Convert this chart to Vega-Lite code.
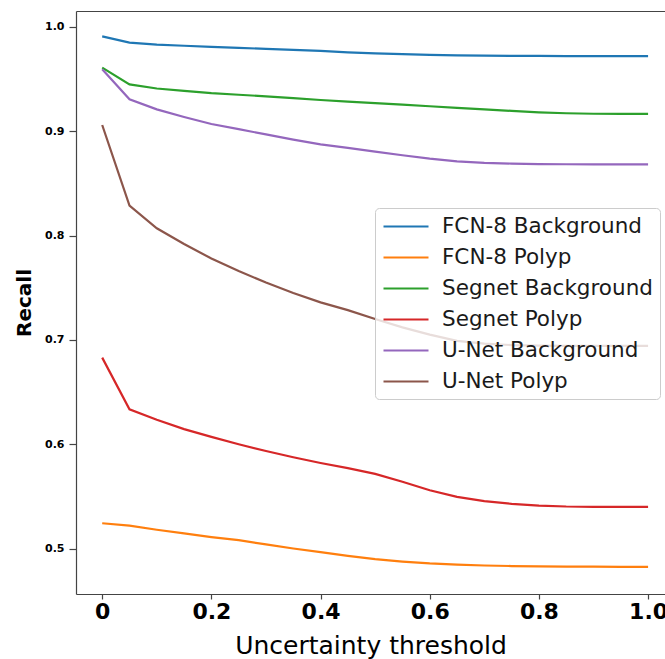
{
  "$schema": "https://vega.github.io/schema/vega-lite/v6.json",
  "width": 589,
  "height": 583,
  "autosize": {"type": "none"},
  "padding": {"left": 76, "top": 11, "right": 0, "bottom": 65},
  "background": "white",
  "config": {"view": {"stroke": null}, "font": "DejaVu Sans"},
  "data": {"values": [
    {"m":"FCN-8 Background","t":0,"r":0.991},{"m":"FCN-8 Background","t":0.05,"r":0.985},{"m":"FCN-8 Background","t":0.1,"r":0.983},{"m":"FCN-8 Background","t":0.15,"r":0.982},{"m":"FCN-8 Background","t":0.2,"r":0.981},{"m":"FCN-8 Background","t":0.25,"r":0.980},{"m":"FCN-8 Background","t":0.3,"r":0.979},{"m":"FCN-8 Background","t":0.35,"r":0.978},{"m":"FCN-8 Background","t":0.4,"r":0.977},{"m":"FCN-8 Background","t":0.45,"r":0.9757},{"m":"FCN-8 Background","t":0.5,"r":0.9747},{"m":"FCN-8 Background","t":0.55,"r":0.9739},{"m":"FCN-8 Background","t":0.6,"r":0.9732},{"m":"FCN-8 Background","t":0.65,"r":0.9728},{"m":"FCN-8 Background","t":0.7,"r":0.9725},{"m":"FCN-8 Background","t":0.75,"r":0.9723},{"m":"FCN-8 Background","t":0.8,"r":0.9722},{"m":"FCN-8 Background","t":0.85,"r":0.9721},{"m":"FCN-8 Background","t":0.9,"r":0.972},{"m":"FCN-8 Background","t":0.95,"r":0.972},{"m":"FCN-8 Background","t":1.0,"r":0.972},
    {"m":"FCN-8 Polyp","t":0,"r":0.5242},{"m":"FCN-8 Polyp","t":0.05,"r":0.5219},{"m":"FCN-8 Polyp","t":0.1,"r":0.518},{"m":"FCN-8 Polyp","t":0.15,"r":0.5145},{"m":"FCN-8 Polyp","t":0.2,"r":0.511},{"m":"FCN-8 Polyp","t":0.25,"r":0.508},{"m":"FCN-8 Polyp","t":0.3,"r":0.504},{"m":"FCN-8 Polyp","t":0.35,"r":0.5},{"m":"FCN-8 Polyp","t":0.4,"r":0.4965},{"m":"FCN-8 Polyp","t":0.45,"r":0.493},{"m":"FCN-8 Polyp","t":0.5,"r":0.4898},{"m":"FCN-8 Polyp","t":0.55,"r":0.4875},{"m":"FCN-8 Polyp","t":0.6,"r":0.4857},{"m":"FCN-8 Polyp","t":0.65,"r":0.4845},{"m":"FCN-8 Polyp","t":0.7,"r":0.4837},{"m":"FCN-8 Polyp","t":0.75,"r":0.4832},{"m":"FCN-8 Polyp","t":0.8,"r":0.4829},{"m":"FCN-8 Polyp","t":0.85,"r":0.4827},{"m":"FCN-8 Polyp","t":0.9,"r":0.4826},{"m":"FCN-8 Polyp","t":0.95,"r":0.4825},{"m":"FCN-8 Polyp","t":1.0,"r":0.4825},
    {"m":"Segnet Background","t":0,"r":0.961},{"m":"Segnet Background","t":0.05,"r":0.945},{"m":"Segnet Background","t":0.1,"r":0.941},{"m":"Segnet Background","t":0.15,"r":0.9387},{"m":"Segnet Background","t":0.2,"r":0.9365},{"m":"Segnet Background","t":0.25,"r":0.935},{"m":"Segnet Background","t":0.3,"r":0.9335},{"m":"Segnet Background","t":0.35,"r":0.9318},{"m":"Segnet Background","t":0.4,"r":0.930},{"m":"Segnet Background","t":0.45,"r":0.9285},{"m":"Segnet Background","t":0.5,"r":0.927},{"m":"Segnet Background","t":0.55,"r":0.9255},{"m":"Segnet Background","t":0.6,"r":0.924},{"m":"Segnet Background","t":0.65,"r":0.9225},{"m":"Segnet Background","t":0.7,"r":0.921},{"m":"Segnet Background","t":0.75,"r":0.9195},{"m":"Segnet Background","t":0.8,"r":0.9182},{"m":"Segnet Background","t":0.85,"r":0.9173},{"m":"Segnet Background","t":0.9,"r":0.9168},{"m":"Segnet Background","t":0.95,"r":0.9166},{"m":"Segnet Background","t":1.0,"r":0.9166},
    {"m":"Segnet Polyp","t":0,"r":0.683},{"m":"Segnet Polyp","t":0.05,"r":0.6335},{"m":"Segnet Polyp","t":0.1,"r":0.6235},{"m":"Segnet Polyp","t":0.15,"r":0.6145},{"m":"Segnet Polyp","t":0.2,"r":0.607},{"m":"Segnet Polyp","t":0.25,"r":0.6},{"m":"Segnet Polyp","t":0.3,"r":0.5935},{"m":"Segnet Polyp","t":0.35,"r":0.5875},{"m":"Segnet Polyp","t":0.4,"r":0.582},{"m":"Segnet Polyp","t":0.45,"r":0.577},{"m":"Segnet Polyp","t":0.5,"r":0.5715},{"m":"Segnet Polyp","t":0.55,"r":0.564},{"m":"Segnet Polyp","t":0.6,"r":0.5558},{"m":"Segnet Polyp","t":0.65,"r":0.5495},{"m":"Segnet Polyp","t":0.7,"r":0.5455},{"m":"Segnet Polyp","t":0.75,"r":0.5428},{"m":"Segnet Polyp","t":0.8,"r":0.5412},{"m":"Segnet Polyp","t":0.85,"r":0.5403},{"m":"Segnet Polyp","t":0.9,"r":0.54},{"m":"Segnet Polyp","t":0.95,"r":0.54},{"m":"Segnet Polyp","t":1.0,"r":0.54},
    {"m":"U-Net Background","t":0,"r":0.9594},{"m":"U-Net Background","t":0.05,"r":0.9307},{"m":"U-Net Background","t":0.1,"r":0.921},{"m":"U-Net Background","t":0.15,"r":0.9137},{"m":"U-Net Background","t":0.2,"r":0.907},{"m":"U-Net Background","t":0.25,"r":0.902},{"m":"U-Net Background","t":0.3,"r":0.897},{"m":"U-Net Background","t":0.35,"r":0.892},{"m":"U-Net Background","t":0.4,"r":0.8875},{"m":"U-Net Background","t":0.45,"r":0.884},{"m":"U-Net Background","t":0.5,"r":0.8805},{"m":"U-Net Background","t":0.55,"r":0.877},{"m":"U-Net Background","t":0.6,"r":0.8738},{"m":"U-Net Background","t":0.65,"r":0.8712},{"m":"U-Net Background","t":0.7,"r":0.8697},{"m":"U-Net Background","t":0.75,"r":0.869},{"m":"U-Net Background","t":0.8,"r":0.8686},{"m":"U-Net Background","t":0.85,"r":0.8684},{"m":"U-Net Background","t":0.9,"r":0.8683},{"m":"U-Net Background","t":0.95,"r":0.8683},{"m":"U-Net Background","t":1.0,"r":0.8683},
    {"m":"U-Net Polyp","t":0,"r":0.906},{"m":"U-Net Polyp","t":0.05,"r":0.8287},{"m":"U-Net Polyp","t":0.1,"r":0.807},{"m":"U-Net Polyp","t":0.15,"r":0.792},{"m":"U-Net Polyp","t":0.2,"r":0.778},{"m":"U-Net Polyp","t":0.25,"r":0.766},{"m":"U-Net Polyp","t":0.3,"r":0.755},{"m":"U-Net Polyp","t":0.35,"r":0.745},{"m":"U-Net Polyp","t":0.4,"r":0.736},{"m":"U-Net Polyp","t":0.45,"r":0.7285},{"m":"U-Net Polyp","t":0.5,"r":0.72},{"m":"U-Net Polyp","t":0.55,"r":0.712},{"m":"U-Net Polyp","t":0.6,"r":0.705},{"m":"U-Net Polyp","t":0.65,"r":0.699},{"m":"U-Net Polyp","t":0.7,"r":0.6965},{"m":"U-Net Polyp","t":0.75,"r":0.695},{"m":"U-Net Polyp","t":0.8,"r":0.6945},{"m":"U-Net Polyp","t":0.85,"r":0.6943},{"m":"U-Net Polyp","t":0.9,"r":0.6943},{"m":"U-Net Polyp","t":0.95,"r":0.6943},{"m":"U-Net Polyp","t":1.0,"r":0.6943}
  ]},
  "encoding": {
    "y": {
      "field": "r", "type": "quantitative",
      "scale": {"domain": [0.4564, 1.0153], "nice": false, "zero": false},
      "axis": {
        "values": [0.5, 0.6, 0.7, 0.8, 0.9, 1.0], "format": ".1f", "grid": false,
        "title": "Recall", "titleFont": "DejaVu Sans", "titleFontSize": 20, "titleFontWeight": "bold", "titleColor": "#000", "titlePadding": 10,
        "labelFont": "DejaVu Sans", "labelFontSize": 11, "labelFontWeight": "bold", "labelColor": "#000", "labelPadding": 5,
        "tickSize": 7, "tickColor": "#444", "domainColor": "#444", "tickWidth": 1.2, "domainWidth": 1.2
      }
    }
  },
  "layer": [
    {
      "mark": {"type": "line", "strokeWidth": 2.2, "interpolate": "linear"},
      "encoding": {
        "x": {
          "field": "t", "type": "quantitative",
          "scale": {"domain": [-0.048, 1.031], "nice": false, "zero": false},
          "axis": {
            "orient": "bottom", "values": [0, 0.2, 0.4, 0.6, 0.8, 1.0], "grid": false,
            "labelExpr": "datum.value == 0 ? '0' : format(datum.value, '.1f')",
            "title": "Uncertainty threshold", "titleFont": "DejaVu Sans", "titleFontSize": 25, "titleFontWeight": "normal", "titleColor": "#000", "titlePadding": 11,
            "labelFont": "DejaVu Sans", "labelFontSize": 22, "labelFontWeight": "bold", "labelColor": "#000", "labelPadding": 2,
            "tickSize": 5, "tickColor": "#444", "domainColor": "#444", "tickWidth": 1.2, "domainWidth": 1.2, "labelFlush": false
          }
        },
        "color": {
          "field": "m", "type": "nominal",
          "scale": {
            "domain": ["FCN-8 Background", "FCN-8 Polyp", "Segnet Background", "Segnet Polyp", "U-Net Background", "U-Net Polyp"],
            "range": ["#1f77b4", "#ff7f0e", "#2ca02c", "#d62728", "#9467bd", "#8c564b"]
          },
          "legend": {
            "orient": "none", "legendX": 299, "legendY": 197, "title": null,
            "symbolType": "M-1,0H3.5", "symbolSize": 400, "symbolStrokeWidth": 2.2,
            "labelFont": "DejaVu Sans", "labelFontSize": 21.5, "labelColor": "#1a1a1a", "labelOffset": 37, "labelLimit": 400,
            "rowPadding": 9, "padding": 7,
            "strokeColor": "#cccccc", "fillColor": "rgba(255,255,255,0.8)", "cornerRadius": 4
          }
        }
      }
    },
    {
      "mark": {"type": "line", "opacity": 0},
      "encoding": {
        "x": {
          "field": "t", "type": "quantitative",
          "axis": {"orient": "top", "labels": false, "ticks": false, "title": null, "grid": false, "domainColor": "#444", "domainWidth": 1.2}
        }
      }
    }
  ],
  "resolve": {"axis": {"x": "independent"}}
}
